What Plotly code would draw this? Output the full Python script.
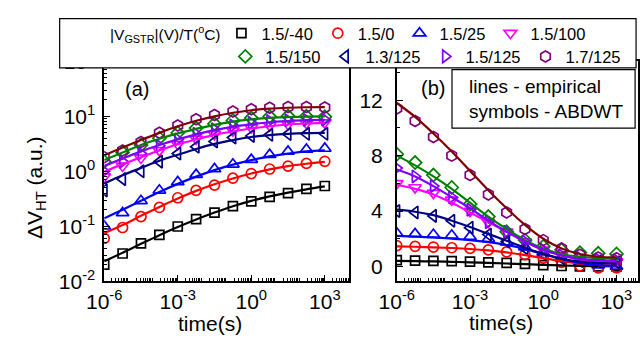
import plotly.graph_objects as go

W, H = 640, 347
FONT = "Liberation Sans, Arial, sans-serif"

# sampling times (s), log spaced
time_s = [1e-6, 5.62e-6, 3.16e-5, 1.78e-4, 1e-3, 5.62e-3, 3.16e-2,
          0.178, 1.0, 5.62, 31.6, 178.0, 1000.0]

# ---- panel (a): dV_HT vs time, log scale ----
a_sym_m40 = [0.020, 0.032, 0.049, 0.070, 0.099, 0.135, 0.177, 0.233, 0.283, 0.343, 0.40, 0.48, 0.54]
a_fit_m40 = [0.023, 0.033, 0.048, 0.069, 0.097, 0.133, 0.178, 0.232, 0.29, 0.35, 0.41, 0.47, 0.53]
a_sym_0 = [0.060, 0.095, 0.150, 0.22, 0.33, 0.45, 0.56, 0.75, 0.91, 1.10, 1.24, 1.39, 1.52]
a_fit_0 = [0.075, 0.105, 0.155, 0.225, 0.32, 0.44, 0.58, 0.74, 0.91, 1.08, 1.24, 1.37, 1.48]
a_sym_25 = [0.10, 0.175, 0.29, 0.45, 0.64, 0.87, 1.10, 1.34, 1.63, 2.0, 2.3, 2.5, 2.6]
a_fit_25 = [0.14, 0.20, 0.29, 0.42, 0.59, 0.80, 1.05, 1.32, 1.60, 1.87, 2.1, 2.3, 2.4]
a_sym_100 = [0.80, 1.25, 1.75, 2.4, 3.1, 3.9, 4.7, 5.5, 6.2, 6.8, 7.2, 7.5, 7.7]
a_fit_100 = [0.98, 1.35, 1.8, 2.4, 3.1, 3.8, 4.6, 5.3, 6.0, 6.6, 7.1, 7.4, 7.6]
a_sym_150 = [1.5, 2.2, 3.0, 4.0, 5.0, 6.1, 7.3, 8.4, 9.3, 9.9, 10.1, 10.0, 9.8]
a_fit_150 = [1.6, 2.2, 3.0, 3.9, 4.9, 5.9, 7.0, 8.0, 8.8, 9.4, 9.7, 9.9, 10.0]
a_sym_13 = [0.45, 0.72, 1.0, 1.5, 2.1, 2.8, 3.5, 4.1, 4.4, 4.6, 4.75, 4.8, 4.8]
a_fit_13 = [0.6, 0.85, 1.15, 1.55, 2.0, 2.55, 3.15, 3.7, 4.2, 4.55, 4.8, 4.95, 5.0]
a_sym_15 = [1.0, 1.5, 2.1, 2.9, 3.8, 4.8, 5.8, 6.8, 7.6, 8.2, 8.5, 8.6, 8.7]
a_fit_15 = [1.25, 1.7, 2.3, 3.0, 3.8, 4.7, 5.6, 6.5, 7.2, 7.8, 8.2, 8.5, 8.6]
a_sym_17 = [1.8, 2.4, 3.4, 5.0, 6.8, 8.8, 10.6, 12.2, 13.5, 14.3, 14.8, 14.8, 14.5]
a_fit_17 = [1.95, 2.7, 3.7, 5.0, 6.6, 8.3, 10.0, 11.6, 12.9, 13.8, 14.3, 14.6, 14.7]

# ---- panel (b): linear scale ----
b_sym_m40 = [0.45, 0.42, 0.40, 0.38, 0.35, 0.30, 0.25, 0.18, 0.10, 0.03, 0.0, 0.0, 0.0]
b_fit_m40 = [0.40, 0.38, 0.36, 0.33, 0.30, 0.26, 0.21, 0.16, 0.11, 0.07, 0.04, 0.02, 0.01]
b_sym_0 = [1.5, 1.45, 1.4, 1.35, 1.3, 1.2, 1.05, 0.85, 0.6, 0.3, 0.05, -0.1, -0.1]
b_fit_0 = [1.45, 1.42, 1.38, 1.33, 1.26, 1.16, 1.02, 0.82, 0.6, 0.38, 0.2, 0.1, 0.05]
b_sym_25 = [2.4, 2.35, 2.3, 2.25, 2.15, 2.0, 1.75, 1.4, 1.0, 0.6, 0.3, 0.1, 0.0]
b_fit_25 = [2.2, 2.15, 2.1, 2.0, 1.9, 1.75, 1.55, 1.25, 0.9, 0.55, 0.25, 0.1, 0.05]
b_sym_100 = [6.0, 5.7, 5.3, 4.8, 4.0, 3.2, 2.5, 1.8, 1.2, 0.8, 0.5, 0.4, 0.35]
b_fit_100 = [5.9, 5.6, 5.2, 4.6, 3.9, 3.2, 2.5, 1.8, 1.2, 0.8, 0.5, 0.35, 0.3]
b_sym_150 = [8.1, 7.5, 6.6, 5.7, 4.5, 3.6, 2.5, 1.9, 1.45, 1.2, 1.0, 0.95, 0.9]
b_fit_150 = [8.0, 7.3, 6.5, 5.6, 4.6, 3.6, 2.7, 1.9, 1.3, 0.9, 0.7, 0.6, 0.6]
b_sym_13 = [4.0, 3.9, 3.65, 3.3, 2.8, 2.3, 1.8, 1.3, 0.9, 0.6, 0.4, 0.35, 0.3]
b_fit_13 = [4.1, 3.95, 3.7, 3.3, 2.85, 2.35, 1.85, 1.35, 0.9, 0.55, 0.35, 0.25, 0.2]
b_sym_15 = [7.1, 6.5, 5.8, 5.0, 4.1, 3.2, 2.5, 1.8, 1.2, 0.8, 0.6, 0.5, 0.45]
b_fit_15 = [7.0, 6.5, 5.8, 5.0, 4.2, 3.3, 2.5, 1.8, 1.2, 0.8, 0.55, 0.45, 0.4]
b_sym_17 = [11.4, 10.5, 9.35, 8.0, 6.6, 5.2, 3.9, 2.7, 1.9, 1.3, 0.85, 0.65, 0.6]
b_fit_17 = [11.8, 10.8, 9.6, 8.3, 6.9, 5.5, 4.2, 3.0, 2.0, 1.3, 0.9, 0.7, 0.65]

labels = ["1.5/-40", "1.5/0", "1.5/25", "1.5/100", "1.5/150", "1.3/125", "1.5/125", "1.7/125"]
symbols = ["square-open", "circle-open", "triangle-up-open", "triangle-down-open",
           "diamond-open", "triangle-left-open", "triangle-right-open", "hexagon-open"]
sym_colors = ["#000000", "#ff0000", "#0000ff", "#ff00ff", "#008000", "#000080", "#8000ff", "#800080"]
fit_colors = ["#000000", "#ff0000", "#0000ff", "#ff00ff", "#008000", "#000080", "#8000ff", "#800000"]
sym_sizes = [9, 10, 11, 11, 10, 11, 11, 11]

a_sym = [a_sym_m40, a_sym_0, a_sym_25, a_sym_100, a_sym_150, a_sym_13, a_sym_15, a_sym_17]
a_fit = [a_fit_m40, a_fit_0, a_fit_25, a_fit_100, a_fit_150, a_fit_13, a_fit_15, a_fit_17]
b_sym = [b_sym_m40, b_sym_0, b_sym_25, b_sym_100, b_sym_150, b_sym_13, b_sym_15, b_sym_17]
b_fit = [b_fit_m40, b_fit_0, b_fit_25, b_fit_100, b_fit_150, b_fit_13, b_fit_15, b_fit_17]


def px(x):
    return x / W


def py(y):
    return 1 - y / H


fig = go.Figure()

for i in range(8):
    leg = "legend" if i < 4 else "legend2"
    for (xa, ya, vals, show) in (("x", "y", a_sym[i], True), ("x2", "y2", b_sym[i], False)):
        fig.add_trace(go.Scatter(
            x=time_s, y=vals, xaxis=xa, yaxis=ya, mode="markers", name=labels[i],
            legend=leg, showlegend=show,
            marker=dict(symbol=symbols[i], size=sym_sizes[i], color=sym_colors[i],
                        line=dict(width=1.7, color=sym_colors[i])),
        ))

for i in range(8):
    for (xa, ya, vals) in (("x", "y", a_fit[i]), ("x2", "y2", b_fit[i])):
        fig.add_trace(go.Scatter(
            x=time_s, y=vals, xaxis=xa, yaxis=ya, mode="lines", showlegend=False,
            line=dict(color=fit_colors[i], width=2.2, shape="spline", smoothing=1.0),
        ))

# time axis ticks: labelled decades on the main axes, the remaining decades
# on tick-only overlay axes, 2..9 sub-decades as minor ticks
lab_dec = [1e-6, 1e-3, 1e0, 1e3]
lab_txt = ["10<sup>-6</sup>", "10<sup>-3</sup>", "10<sup>0</sup>", "10<sup>3</sup>"]
plain_dec = [1e-5, 1e-4, 1e-2, 1e-1, 1e1, 1e2, 1e4]
minor_x = [m * 10.0 ** k for k in range(-6, 4) for m in range(2, 10)]

tick_font = dict(family=FONT, size=21, color="black")
minor_style = dict(ticks="inside", ticklen=3, tickcolor="black", tickwidth=1, showgrid=False)

ax_common = dict(showline=True, linecolor="black", linewidth=1.6, mirror=True,
                 ticks="inside", tickcolor="black", tickwidth=1.3, ticklen=6,
                 showgrid=False, zeroline=False, tickfont=tick_font)

x_common = dict(ax_common, type="log", tickmode="array", tickvals=lab_dec, ticktext=lab_txt,
                minor=dict(minor_style, tickmode="array", tickvals=minor_x),
                ticklabelstandoff=1)

x_plain = dict(type="log", tickmode="array", tickvals=plain_dec, showticklabels=False,
               ticks="inside", tickcolor="black", tickwidth=1.3, ticklen=6,
               showline=False, showgrid=False, zeroline=False)

y_top, y_bot = 51, 288
xa_dom = [px(89), px(342)]
xb_dom = [px(391), 1.0]
xa_rng = [-6, 4]
xb_rng = [-6, 3.88]

fig.update_layout(
    width=W, height=H, margin=dict(l=0, r=0, t=0, b=0),
    paper_bgcolor="white", plot_bgcolor="white",
    font=dict(family=FONT, color="black"),
    xaxis=dict(x_common, domain=xa_dom, range=xa_rng, anchor="y"),
    xaxis3=dict(x_plain, domain=xa_dom, range=xa_rng, anchor="y", overlaying="x"),
    yaxis=dict(ax_common, type="log", domain=[py(y_bot), py(y_top)], range=[-2, 2], anchor="x",
               tickmode="array",
               tickvals=[10.0 ** k for k in range(-2, 3)],
               ticktext=["10<sup>%d</sup>" % k for k in range(-2, 3)],
               minor=dict(minor_style, tickmode="array",
                          tickvals=[m * 10.0 ** k for k in range(-2, 2) for m in range(2, 10)]),
               ticklabelstandoff=3),
    xaxis2=dict(x_common, domain=xb_dom, range=xb_rng, anchor="y2"),
    xaxis4=dict(x_plain, domain=xb_dom, range=xb_rng, anchor="y2", overlaying="x2"),
    yaxis2=dict(ax_common, domain=[py(y_bot), py(y_top)], range=[-1.07, 14.81], anchor="x2",
                tickmode="array", tickvals=[0, 4, 8, 12],
                minor=dict(minor_style, tickmode="array", tickvals=[2, 6, 10, 14]),
                ticklabelstandoff=8),
    legend=dict(orientation="h", x=px(210), xanchor="left", y=py(21), yanchor="middle",
                bgcolor="rgba(0,0,0,0)", borderwidth=0,
                font=dict(family=FONT, size=16.5, color="black")),
    legend2=dict(orientation="h", x=px(214), xanchor="left", y=py(46), yanchor="middle",
                 bgcolor="rgba(0,0,0,0)", borderwidth=0,
                 font=dict(family=FONT, size=16.5, color="black")),
)

# legend frame and note box
fig.add_shape(type="rect", xref="paper", yref="paper", x0=px(43), x1=px(638), y0=py(58), y1=py(5),
              line=dict(color="black", width=1.2), fillcolor="white", layer="above")
fig.add_shape(type="rect", xref="paper", yref="paper", x0=px(448), x1=px(637), y0=py(123), y1=py(60),
              line=dict(color="black", width=1.2), fillcolor="white", layer="above")

fig.add_annotation(text="|V<sub>GSTR</sub>|(V)/T(<sup>o</sup>C)", x=px(93), y=py(22),
                   xref="paper", yref="paper", showarrow=False, xanchor="left", yanchor="middle",
                   font=dict(family=FONT, size=15.5, color="black"))

ann = [
    dict(text="(a)", x=px(123), y=py(81), size=20),
    dict(text="(b)", x=px(428), y=py(80), size=20),
    dict(text="time(s)", x=px(198), y=py(333), size=21),
    dict(text="time(s)", x=px(499), y=py(332), size=21),
]
for a in ann:
    fig.add_annotation(text=a["text"], x=a["x"], y=a["y"], xref="paper", yref="paper",
                       showarrow=False, xanchor="center", yanchor="middle",
                       font=dict(family=FONT, size=a["size"], color="black"))

fig.add_annotation(text="ΔV<sub>HT</sub> (a.u.)", x=px(18), y=py(187), xref="paper", yref="paper",
                   showarrow=False, textangle=-90, xanchor="center", yanchor="middle",
                   font=dict(family=FONT, size=21, color="black"))
for txt, yy in (("lines - empirical", 78), ("symbols - ABDWT", 105)):
    fig.add_annotation(text=txt, x=px(463), y=py(yy), xref="paper", yref="paper",
                       showarrow=False, xanchor="left", yanchor="middle",
                       font=dict(family=FONT, size=19, color="black"))

fig.write_html("out.html")
